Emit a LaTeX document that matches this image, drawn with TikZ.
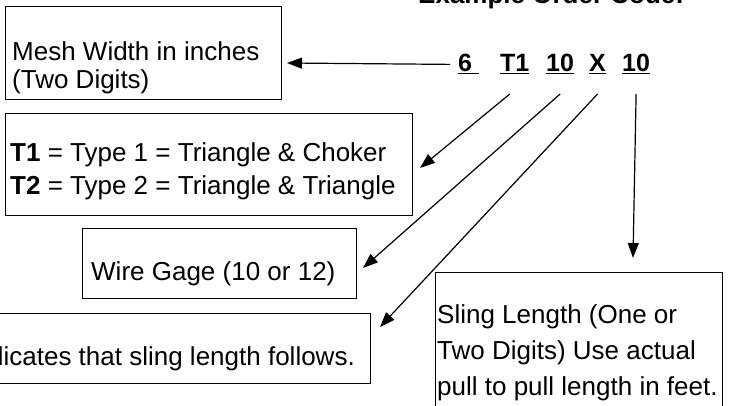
\documentclass[tikz,border=0pt]{standalone}
\usepackage{fontspec}
\setmainfont{Liberation Sans}
\usetikzlibrary{arrows.meta}

\tikzset{
	box/.style={draw, line width=1.4pt, anchor=north west, inner sep=0pt},
	txt/.style={anchor=base west, inner sep=0pt, align=left},
	code/.style={anchor=base west, inner sep=0pt, font=\fontsize{25}{28}\selectfont\bfseries},
	pointer/.style={line width=1.2pt, -{Triangle[length=15pt,width=11pt]}}
}

\begin{document}
\begin{tikzpicture}[x=1pt,y=-1pt]
	\useasboundingbox (0,0) rectangle (731,406);

	% заголовок (обрезан сверху)
	\node [code, font=\fontsize{26}{30}\selectfont\bfseries] (title) at (418,4) {Example Order Code:};

	% код заказа
	\node [code] (c6) at (458,72) {\underline{6\ }};
	\node [code] (cT) at (500,72) {\underline{T1}};
	\node [code] (cG) at (546,72) {\underline{10}};
	\node [code] (cX) at (589,72) {\underline{X}};
	\node [code] (cL) at (622,72) {\underline{10}};

	% рамки
	\node [box, minimum width=276pt, minimum height=93pt] (mesh) at (5,6) {};
	\node [box, minimum width=407pt, minimum height=102pt] (types) at (5,113) {};
	\node [box, minimum width=274pt, minimum height=70pt] (gage) at (82,228) {};
	\node [box, minimum width=390pt, minimum height=70pt] (follows) at (-20,313) {};
	\node [box, minimum width=287pt, minimum height=150pt] (sling) at (435,272) {};

	% надписи (base = последняя строка)
	\node [txt, font=\fontsize{26}{28}\selectfont] (meshtxt) at (12,89) {Mesh Width in inches\\(Two Digits)};
	\node [txt, font=\fontsize{26}{33}\selectfont] (typestxt) at (10,195) {\textbf{T1} = Type 1 = Triangle \& Choker\\\textbf{T2} = Type 2 = Triangle \& Triangle};
	\node [txt, font=\fontsize{26}{30}\selectfont] (gagetxt) at (91,280) {Wire Gage (10 or 12)};
	\node [txt, anchor=base east, font=\fontsize{26}{30}\selectfont] (followstxt) at (355,365) {Indicates that sling length follows.};
	\node [txt, font=\fontsize{26}{36}\selectfont] (slingtxt) at (437,395) {Sling Length (One or\\Two Digits) Use actual\\pull to pull length in feet.};

	% стрелки
	\coordinate (row) at (0,94);
	\coordinate (tMesh) at (287,63);
	\coordinate (tType) at (420,168);
	\coordinate (tGage) at (363,268);
	\coordinate (tFoll) at (380,327);
	\coordinate (tSling) at (633,258);

	\draw [pointer] ([xshift=-8pt]c6.west) -- (tMesh);
	\draw [pointer] ([xshift=-5pt]cT.south |- row) -- (tType);
	\draw [pointer] (cG.south |- row) -- (tGage);
	\draw [pointer] (cX.south |- row) -- (tFoll);
	\draw [pointer] (cL.south |- row) -- (tSling);
\end{tikzpicture}
\end{document}
